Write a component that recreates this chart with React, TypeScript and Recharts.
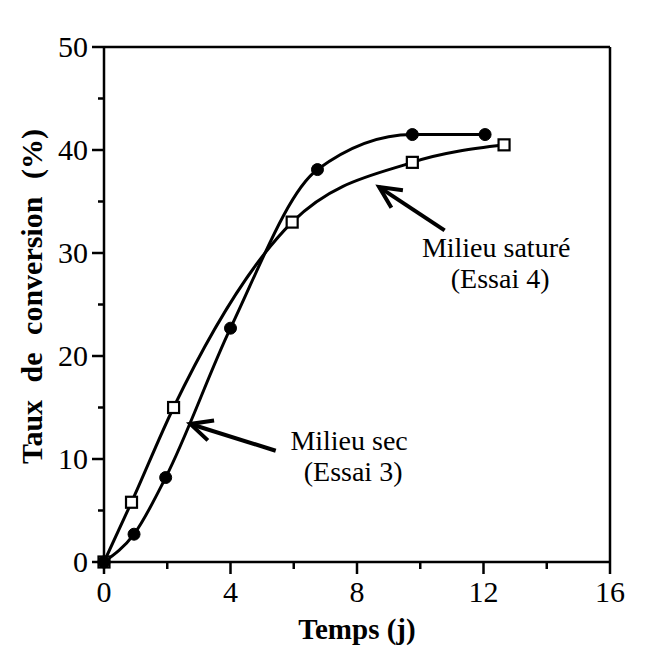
import React from 'react';
import { LineChart, Line, XAxis, YAxis, ReferenceLine, Label } from 'recharts';

const secDays = [0, 0.95, 1.95, 4.0, 6.75, 9.75, 12.05];
const secRates = [0, 2.7, 8.2, 22.7, 38.1, 41.5, 41.5];
const satDays = [0, 0.87, 2.2, 5.95, 9.75, 12.65];
const satRates = [0, 5.8, 15.0, 33.0, 38.8, 40.5];

const xTicks = [0, 2, 4, 6, 8, 10, 12, 14, 16];
const xLabeled = [0, 4, 8, 12, 16];
const yTicks = [0, 5, 10, 15, 20, 25, 30, 35, 40, 45, 50];
const yLabeled = [0, 10, 20, 30, 40, 50];

const xTitle = 'Temps (j)';
const yTitle = 'Taux de conversion (%)';
const satLabel = ['Milieu saturé', '(Essai 4)'];
const secLabel = ['Milieu sec', '(Essai 3)'];

// arrows in data coordinates: [tail, tip]
const satArrow = [{ x: 10.77, y: 32.2 }, { x: 8.7, y: 36.4 }];
const secArrow = [{ x: 5.43, y: 10.8 }, { x: 2.73, y: 13.4 }];

const secData = secDays.map((x, i) => ({ x, y: secRates[i] }));
const satData = satDays.map((x, i) => ({ x, y: satRates[i] }));

const FONT = '"Liberation Serif", "Times New Roman", serif';
const SW = 2.5;

const XTick = (props: any) => {
  const { x, y, payload } = props;
  const major = xLabeled.includes(payload.value);
  return (
    <g>
      <line x1={x} y1={y} x2={x} y2={y + (major ? 12 : 7)} stroke="#000" strokeWidth={SW} />
      {major && (
        <text x={x} y={y + 40} textAnchor="middle" fontSize={30} fontFamily={FONT} fill="#000">
          {payload.value}
        </text>
      )}
    </g>
  );
};

const YTick = (props: any) => {
  const { x, y, payload } = props;
  const major = yLabeled.includes(payload.value);
  return (
    <g>
      <line x1={x - (major ? 12 : 6)} y1={y} x2={x} y2={y} stroke="#000" strokeWidth={SW} />
      {major && (
        <text x={x - 16} y={y + 10} textAnchor="end" fontSize={30} fontFamily={FONT} fill="#000">
          {payload.value}
        </text>
      )}
    </g>
  );
};

const CircleDot = (props: any) => {
  const { cx, cy, index } = props;
  return <circle key={'c' + index} cx={cx} cy={cy} r={6} fill="#000" stroke="#000" />;
};

const SquareDot = (props: any) => {
  const { cx, cy, index } = props;
  return (
    <rect key={'s' + index} x={cx - 5.5} y={cy - 5.5} width={11} height={11} fill="#fff" stroke="#000" strokeWidth={2.2} />
  );
};

const arrowShape = (props: any) => {
  const { x1, y1, x2, y2 } = props;
  const ang = Math.atan2(y2 - y1, x2 - x1);
  const len = 24;
  const spread = 0.45;
  const a1x = x2 - len * Math.cos(ang - spread);
  const a1y = y2 - len * Math.sin(ang - spread);
  const a2x = x2 - len * Math.cos(ang + spread);
  const a2y = y2 - len * Math.sin(ang + spread);
  return (
    <g>
      <line x1={x1} y1={y1} x2={x2} y2={y2} stroke="#000" strokeWidth={4} />
      <polyline points={`${a1x},${a1y} ${x2},${y2} ${a2x},${a2y}`} fill="none" stroke="#000" strokeWidth={4} strokeLinejoin="miter" />
    </g>
  );
};

const twoLineLabel = (lines: string[], dx: number, dy: number) => (props: any) => {
  const { viewBox } = props;
  const cx = viewBox.x + dx;
  const cy = viewBox.y + dy;
  return (
    <text fontSize={28} fontFamily={FONT} fill="#000" textAnchor="middle">
      <tspan x={cx} y={cy}>{lines[0]}</tspan>
      <tspan x={cx + 4} y={cy + 31}>{lines[1]}</tspan>
    </text>
  );
};

export default function App() {
  return (
    <div style={{ background: '#fff' }}>
      <LineChart width={632} height={642} margin={{ top: 39, right: 30, bottom: 0, left: 0 }}>
        <XAxis
          dataKey="x"
          type="number"
          domain={[0, 16]}
          ticks={xTicks}
          interval={0}
          tick={<XTick />}
          tickLine={false}
          tickSize={0}
          tickMargin={0}
          height={88}
          axisLine={{ stroke: '#000', strokeWidth: SW }}
          allowDuplicatedCategory={false}
        >
          <Label
            content={(p: any) => (
              <text
                x={p.viewBox.x + p.viewBox.width / 2}
                y={p.viewBox.y + 77}
                textAnchor="middle"
                fontSize={29}
                fontWeight="bold"
                fontFamily={FONT}
                fill="#000"
              >
                {xTitle}
              </text>
            )}
          />
        </XAxis>
        <YAxis
          type="number"
          domain={[0, 50]}
          ticks={yTicks}
          interval={0}
          tick={<YTick />}
          tickLine={false}
          tickSize={0}
          tickMargin={0}
          width={96}
          axisLine={{ stroke: '#000', strokeWidth: SW }}
        >
          <Label
            content={(p: any) => {
              const cx = 23;
              const cy = p.viewBox.y + p.viewBox.height / 2 - 8;
              return (
                <text
                  x={cx}
                  y={cy}
                  transform={`rotate(-90 ${cx} ${cy})`}
                  textAnchor="middle"
                  dominantBaseline="central"
                  fontSize={30}
                  fontWeight="bold"
                  fontFamily={FONT}
                  fill="#000"
                  style={{ wordSpacing: '10px' }}
                >
                  {yTitle}
                </text>
              );
            }}
          />
        </YAxis>
        <ReferenceLine y={50} stroke="#000" strokeWidth={SW} />
        <ReferenceLine x={16} stroke="#000" strokeWidth={SW} />
        <ReferenceLine segment={satArrow} shape={arrowShape} ifOverflow="visible" />
        <ReferenceLine segment={secArrow} shape={arrowShape} ifOverflow="visible" />
        <ReferenceLine
          segment={[{ x: 12.4, y: 29.6 }, { x: 12.4, y: 29.6 }]}
          stroke="none"
          ifOverflow="visible"
          label={<Label content={twoLineLabel(satLabel, 0, 0)} />}
        />
        <Line
          data={satData}
          dataKey="y"
          type="monotone"
          stroke="#000"
          strokeWidth={3}
          dot={<SquareDot />}
          isAnimationActive={false}
        />
        <Line
          data={secData}
          dataKey="y"
          type="monotone"
          stroke="#000"
          strokeWidth={3}
          dot={<CircleDot />}
          isAnimationActive={false}
        />
        <ReferenceLine
          segment={[{ x: 7.75, y: 10.9 }, { x: 7.75, y: 10.9 }]}
          stroke="none"
          ifOverflow="visible"
          label={<Label content={twoLineLabel(secLabel, 0, 0)} />}
        />
      </LineChart>
    </div>
  );
}
